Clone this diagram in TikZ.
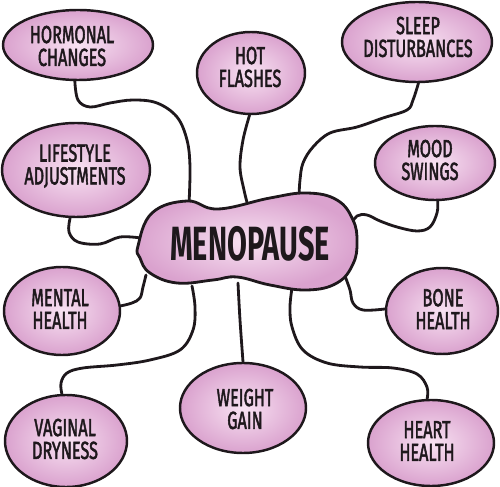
\documentclass[tikz,border=0pt]{standalone}
\usepackage{fontspec}
\usepackage{graphicx}
\setmainfont{Fira Sans}
\newfontfamily\handfont{Fira Sans}[FakeBold=2.5]
\usetikzlibrary{shapes.geometric}
\definecolor{ink}{RGB}{30,24,28}
\definecolor{pinkout}{RGB}{218,162,206}
\definecolor{pinkin}{RGB}{248,226,242}
\newcommand\sx[1]{\scalebox{0.66}[1]{#1}}
\newcommand\sxbig[1]{\scalebox{0.6}[1]{#1}}
\tikzset{
  bubble/.style={ellipse, draw=ink, line width=2.1pt, shade, inner color=pinkin, outer color=pinkout, inner sep=0pt},
  lbl/.style={align=center, text=ink, inner sep=0pt, font=\handfont\fontsize{21}{19.5}\selectfont},
  link/.style={draw=ink, line width=2.4pt, line cap=round, line join=round},
}
\begin{document}
\begin{tikzpicture}[x=0.03cm, y=-0.03cm]
\useasboundingbox (0,0) rectangle (500,487);
% attach points on the central blob
\coordinate (mHC) at (189,204);
\coordinate (mHF) at (248,206);
\coordinate (mSD) at (299,196);
\coordinate (mMS) at (350,226);
\coordinate (mLA) at (141,238);
\coordinate (mMH) at (146,275);
\coordinate (mBH) at (345,276);
\coordinate (mVD) at (192,286);
\coordinate (mWG) at (238,283);
\coordinate (mHH) at (292,288);
% bubbles
\node[bubble, minimum width=4.5cm, minimum height=2.1cm] (hc) at (78,45) {};
\node[bubble, minimum width=3.24cm, minimum height=2.46cm] (hf) at (251,73) {};
\node[bubble, minimum width=4.5cm, minimum height=2.4cm] (sd) at (417,42) {};
\node[bubble, minimum width=4.44cm, minimum height=2.82cm] (la) at (76,170) {};
\node[bubble, minimum width=3.6cm, minimum height=2.22cm] (ms) at (435,163) {};
\node[bubble, minimum width=3.48cm, minimum height=2.64cm] (mh) at (62,311) {};
\node[bubble, minimum width=3.36cm, minimum height=2.58cm] (bh) at (442,311) {};
\node[bubble, minimum width=3.66cm, minimum height=2.76cm] (vd) at (66,441) {};
\node[bubble, minimum width=3.78cm, minimum height=2.7cm] (wg) at (243,408) {};
\node[bubble, minimum width=3.78cm, minimum height=2.58cm] (hh) at (431,443) {};
% links
\draw[link] plot[smooth, tension=0.6] coordinates {(hc.-95) (78,100) (90,107) (110,103) (133,100) (157,103) (177,117) (187,140) (190,167) (mHC)};
\draw[link] plot[smooth, tension=0.6] coordinates {(hf.-92) (243,140) (240,167) (244,190) (mHF)};
\draw[link] plot[smooth, tension=0.6] coordinates {(sd.-88) (413,100) (407,110) (383,118) (357,127) (330,133) (313,147) (303,163) (300,180) (mSD)};
\draw[link] plot[smooth, tension=0.6] coordinates {(ms.-86) (437,213) (430,227) (417,231) (397,227) (380,221) (367,215) (357,216) (mMS)};
\draw[link] plot[smooth, tension=0.6] coordinates {(la.-97) (69,232) (78,242) (100,244) (120,237) (mLA)};
\draw[link] plot[smooth, tension=0.6] coordinates {(mh.5) (132,303) (140,298) (143,287) (mMH)};
\draw[link] plot[smooth, tension=0.6] coordinates {(bh.178) (363,310) (353,303) (350,290) (mBH)};
\draw[link] plot[smooth, tension=0.6] coordinates {(vd.95) (61,383) (67,373) (83,368) (117,365) (150,360) (180,350) (193,330) (195,307) (mVD)};
\draw[link] plot[smooth, tension=0.6] coordinates {(wg.north) (240,320) (mWG)};
\draw[link] plot[smooth, tension=0.6] coordinates {(hh.95) (427,387) (417,374) (393,368) (360,367) (327,363) (303,350) (292,327) (290,307) (mHH)};
% central blob
\path[draw=ink, line width=2.4pt, shade, inner color=pinkin, outer color=pinkout]
  plot[smooth cycle, tension=0.7] coordinates {(138,246) (152,213) (187,201) (218,209) (270,198) (307,193) (337,200) (353,220) (357,242) (353,264) (337,283) (307,290) (270,285) (237,277) (213,280) (177,283) (150,273) (140,258)};
\node[text=ink, inner sep=0pt, font=\fontsize{41}{41}\selectfont\bfseries] (meno) at (250,244) {\sxbig{MENOPAUSE}};
% labels
\node[lbl] (hct) at (72,46) {\sx{HORMONAL}\\\sx{CHANGES}};
\node[lbl] (hft) at (250,67) {\sx{HOT}\\\sx{FLASHES}};
\node[lbl] (sdt) at (418,37) {\sx{SLEEP}\\\sx{DISTURBANCES}};
\node[lbl] (lat) at (75,166) {\sx{LIFESTYLE}\\\sx{ADJUSTMENTS}};
\node[lbl] (mst) at (430,160) {\sx{MOOD}\\\sx{SWINGS}};
\node[lbl] (mht) at (60,309) {\sx{MENTAL}\\\sx{HEALTH}};
\node[lbl] (bht) at (443,309) {\sx{BONE}\\\sx{HEALTH}};
\node[lbl] (vdt) at (65,439) {\sx{VAGINAL}\\\sx{DRYNESS}};
\node[lbl] (wgt) at (245,409) {\sx{WEIGHT}\\\sx{GAIN}};
\node[lbl] (hht) at (427,441) {\sx{HEART}\\\sx{HEALTH}};
\end{tikzpicture}
\end{document}
